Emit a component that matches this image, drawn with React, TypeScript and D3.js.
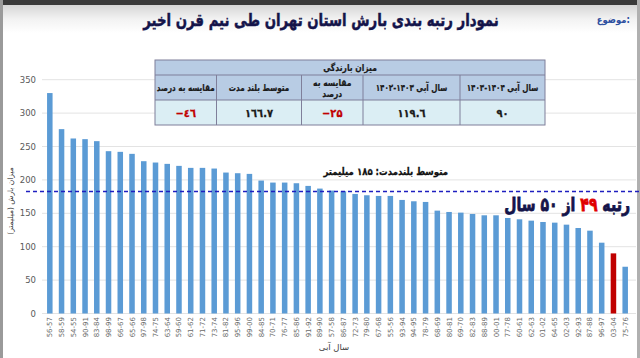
import React from "react";
import * as d3 from "d3";

const years: string[] = [
  "56-57", "58-59", "54-55", "90-91", "83-84", "98-99", "66-67", "65-66", "97-98", "74-75",
  "63-64", "59-60", "61-62", "71-72", "73-74", "81-82", "95-96", "99-00", "84-85", "70-71",
  "76-77", "85-86", "91-92", "89-90", "57-58", "86-87", "72-73", "79-80", "67-68", "55-56",
  "93-94", "94-95", "78-79", "68-69", "80-81", "69-70", "82-83", "88-89", "00-01", "77-78",
  "60-61", "62-63", "01-02", "64-65", "02-03", "92-93", "87-88", "96-97", "03-04", "75-76",
];
const rainfall: number[] = [
  330, 276, 262, 261, 258, 243, 242, 239, 228, 226,
  224, 221, 218, 218, 217, 211, 210, 209, 199, 196,
  196, 195, 191, 187, 184, 183, 179, 177, 176, 176,
  170, 168, 167, 154, 152, 151, 149, 147, 147, 143,
  141, 139, 137, 136, 133, 128, 124, 106, 90, 70,
];
const highlightYear = "03-04";
const longTermMean = 185;
const yTicks: number[] = [0, 50, 100, 150, 200, 250, 300, 350];

const tableHeaders: string[] = [
  "سال آبی ۱۴۰۴-۱۴۰۳",
  "سال آبی ۱۴۰۳-۱۴۰۲",
  "مقایسه به|درصد",
  "متوسط بلند مدت",
  "مقایسه به درصد",
];
const tableValues: string[] = ["٩٠", "١١٩.٦", "−۲۵", "١٦٦.٧", "−٤٦"];
const tableRed: boolean[] = [false, false, true, false, true];

function SText(props: { x: number; y: number; sx: number; anchor?: string; size: number; bold?: boolean; fill: string; children: React.ReactNode; sw?: number }) {
  return (
    <g transform={`translate(${props.x},${props.y}) scale(${props.sx},1)`}>
      <text x={0} y={0} textAnchor={props.anchor || "middle"} fontSize={props.size} fontWeight={props.bold ? "bold" : "normal"}
        fill={props.fill} stroke={props.sw ? props.fill : undefined} strokeWidth={props.sw || 0}>{props.children}</text>
    </g>
  );
}

export default function App() {
  const W = 640;
  const H = 358;
  const x = d3.scaleBand<string>().domain(years).range([44, 631]).paddingInner(0.53).paddingOuter(0.26);
  const y = d3.scaleLinear().domain([0, 350]).range([313.5, 79.7]);

  const colX = [545, 460, 363, 301.5, 216.5, 155];
  const tY = [60, 75, 100, 125];
  const border = "#7f7f9a";

  return (
    <svg width={W} height={H} style={{ position: "absolute", left: 0, top: 0, display: "block", background: "#fff" }}
      fontFamily="'DejaVu Sans', 'Noto Sans', sans-serif">
      <defs>
        <linearGradient id="tb" x1="0" y1="0" x2="0" y2="1">
          <stop offset="0" stopColor="#d6d6d6" />
          <stop offset="0.5" stopColor="#f2f2f2" />
          <stop offset="1" stopColor="#ffffff" />
        </linearGradient>
      </defs>
      <rect x={0} y={0} width={W} height={H} fill="#fff" />
      <rect x={0} y={5} width={W} height={28} fill="url(#tb)" />
      <rect x={0} y={0} width={W} height={5} fill="#3a3a3a" />
      <rect x={0} y={0} width={3} height={H} fill="#9a9a9a" />
      <rect x={637} y={0} width={3} height={H} fill="#b0b0b0" />

      <SText x={321} y={26} sx={0.76} size={17.5} bold sw={0.5} fill="#14144a">نمودار رتبه بندی بارش استان تهران طی نیم قرن اخیر</SText>
      <SText x={630} y={23} sx={0.85} anchor="end" size={10} bold fill="#2e4fa0">موضوع:</SText>

      {yTicks.map((t) => (
        <line key={"g" + t} x1={42} x2={636} y1={y(t)} y2={y(t)} stroke="#e3e3e3" strokeWidth={1} />
      ))}
      {yTicks.map((t) => (
        <text key={"yt" + t} x={36} y={y(t) + 3} textAnchor="end" fontSize={8.5} fill="#595959">{t}</text>
      ))}
      <text transform={`translate(13,201) rotate(-90)`} textAnchor="middle" fontSize={7.5} fill="#404040">میزان بارش (میلیمتر)</text>

      {years.map((yr, i) => (
        <rect key={yr} x={x(yr)} y={y(rainfall[i])} width={x.bandwidth()} height={y(0) - y(rainfall[i])}
          fill={yr === highlightYear ? "#c00000" : "#5b9bd5"} />
      ))}
      {years.map((yr) => (
        <text key={"xl" + yr} transform={`translate(${(x(yr) as number) + x.bandwidth() / 2 + 2.5},317) rotate(-90)`}
          textAnchor="end" fontSize={7} fill="#6a6a6a">{yr}</text>
      ))}
      <text x={334} y={350} textAnchor="middle" fontSize={8.5} fill="#404040">سال آبی</text>

      <line x1={26} x2={640} y1={y(longTermMean) + 1.5} y2={y(longTermMean) + 1.5} stroke="#1f1fc0" strokeWidth={1.5} strokeDasharray="4,3" />
      <SText x={448} y={175} sx={0.86} anchor="end" size={10} bold sw={0.25} fill="#111">متوسط بلندمدت: ۱۸۵ میلیمتر</SText>
      <g transform="translate(630,211) scale(0.74,1)">
        <text x={0} y={0} direction="rtl" textAnchor="start" fontSize={19} fontWeight="bold" fill="#14144a" stroke="#14144a" strokeWidth={0.8}>
          رتبه <tspan fill="#e00000" stroke="#e00000">۴۹</tspan> از ۵۰ سال
        </text>
      </g>

      <rect x={colX[5]} y={tY[0]} width={colX[0] - colX[5]} height={tY[2] - tY[0]} fill="#b8cce4" />
      <rect x={colX[5]} y={tY[2]} width={colX[0] - colX[5]} height={tY[3] - tY[2]} fill="#dbeef4" />
      <rect x={colX[5]} y={tY[0]} width={colX[0] - colX[5]} height={tY[3] - tY[0]} fill="none" stroke={border} strokeWidth={1} />
      <line x1={colX[5]} x2={colX[0]} y1={tY[1]} y2={tY[1]} stroke={border} />
      <line x1={colX[5]} x2={colX[0]} y1={tY[2]} y2={tY[2]} stroke={border} />
      {colX.slice(1, 5).map((cx) => (
        <line key={"c" + cx} x1={cx} x2={cx} y1={tY[1]} y2={tY[3]} stroke={border} />
      ))}
      <SText x={(colX[0] + colX[5]) / 2} y={71} sx={0.8} size={9.5} bold sw={0.2} fill="#1a1a1a">میزان بارندگی</SText>
      {tableHeaders.map((h, i) => {
        const cx = (colX[i] + colX[i + 1]) / 2;
        const parts = h.split("|");
        if (parts.length === 2) {
          return (
            <g key={"h" + i}>
              <SText x={cx} y={86} sx={0.8} size={9.5} bold sw={0.2} fill="#1a1a1a">{parts[0]}</SText>
              <SText x={cx} y={97} sx={0.8} size={9.5} bold sw={0.2} fill="#1a1a1a">{parts[1]}</SText>
            </g>
          );
        }
        return <SText key={"h" + i} x={cx} y={91} sx={0.76} size={9.5} bold sw={0.2} fill="#1a1a1a">{h}</SText>;
      })}
      {tableValues.map((v, i) => {
        const cx = (colX[i] + colX[i + 1]) / 2;
        return <SText key={"v" + i} x={cx} y={117} sx={0.9} size={11} bold sw={0.3} fill={tableRed[i] ? "#c00000" : "#1a1a1a"}>{v}</SText>;
      })}
    </svg>
  );
}
